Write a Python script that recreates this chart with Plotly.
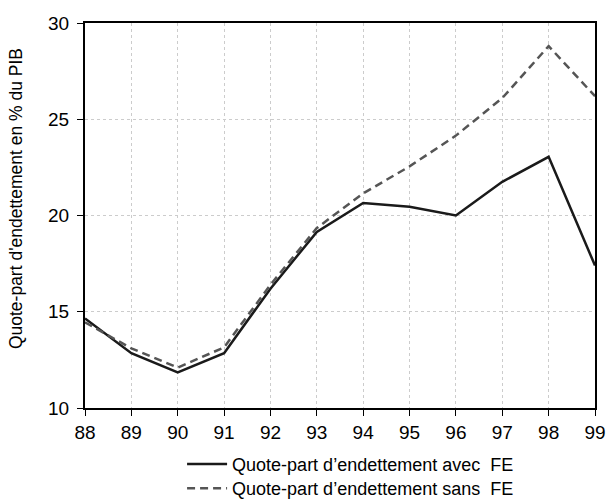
import plotly.graph_objects as go

years = [88, 89, 90, 91, 92, 93, 94, 95, 96, 97, 98, 99]
avec_fe = [14.65, 12.85, 11.85, 12.85, 16.2, 19.15, 20.65, 20.45, 20.0, 21.75, 23.05, 17.4]
sans_fe = [14.45, 13.1, 12.1, 13.15, 16.4, 19.35, 21.15, 22.55, 24.15, 26.1, 28.8, 26.2]
x_ticks = ["88", "89", "90", "91", "92", "93", "94", "95", "96", "97", "98", "99"]
name_avec = "Quote-part d’endettement avec&nbsp; FE"
name_sans = "Quote-part d’endettement sans&nbsp; FE"
y_title = "Quote-part d'endettement en % du PIB"

fig = go.Figure()
fig.add_trace(go.Scatter(x=years, y=avec_fe, mode="lines", name=name_avec,
                         legend="legend", showlegend=True,
                         line=dict(color="#1a1a1a", width=2.5)))
fig.add_trace(go.Scatter(x=years, y=sans_fe, mode="lines", name=name_sans,
                         legend="legend2", showlegend=True,
                         line=dict(color="#555555", width=2.5, dash="8px,5px")))

leg_common = dict(x=0.298, xanchor="left", xref="container", yanchor="middle",
                  yref="container", orientation="v", font=dict(size=18),
                  itemwidth=40, bgcolor="rgba(0,0,0,0)")

fig.update_layout(
    width=611, height=502,
    showlegend=True,
    margin=dict(l=85, r=16, t=23, b=94, autoexpand=False),
    paper_bgcolor="white", plot_bgcolor="white",
    font=dict(family="Liberation Sans, Arial, sans-serif", color="black"),
    legend=dict(y=0.075, **leg_common),
    legend2=dict(y=0.027, **leg_common),
    annotations=[dict(text=y_title, xref="paper", yref="paper",
                      x=-0.135, y=0.543, xanchor="center", yanchor="middle",
                      textangle=-90, showarrow=False, font=dict(size=17.5))],
)
fig.update_xaxes(range=[88, 99], tickvals=years, ticktext=x_ticks,
                 showline=True, linecolor="black", linewidth=2, mirror=True,
                 ticks="outside", ticklen=6, tickcolor="black",
                 showgrid=True, gridcolor="#cccccc", griddash="3px,3px", gridwidth=1,
                 tickfont=dict(size=19), zeroline=False)
fig.update_yaxes(range=[10, 30], tickvals=[10, 15, 20, 25, 30],
                 showline=True, linecolor="black", linewidth=2, mirror=True,
                 ticks="outside", ticklen=6, tickcolor="black",
                 showgrid=True, gridcolor="#cccccc", griddash="dot", gridwidth=1,
                 tickfont=dict(size=19), zeroline=False, ticklabelstandoff=4)

fig.write_html("out.html", config={"displayModeBar": False},
               post_script="document.body.style.margin='0';")
